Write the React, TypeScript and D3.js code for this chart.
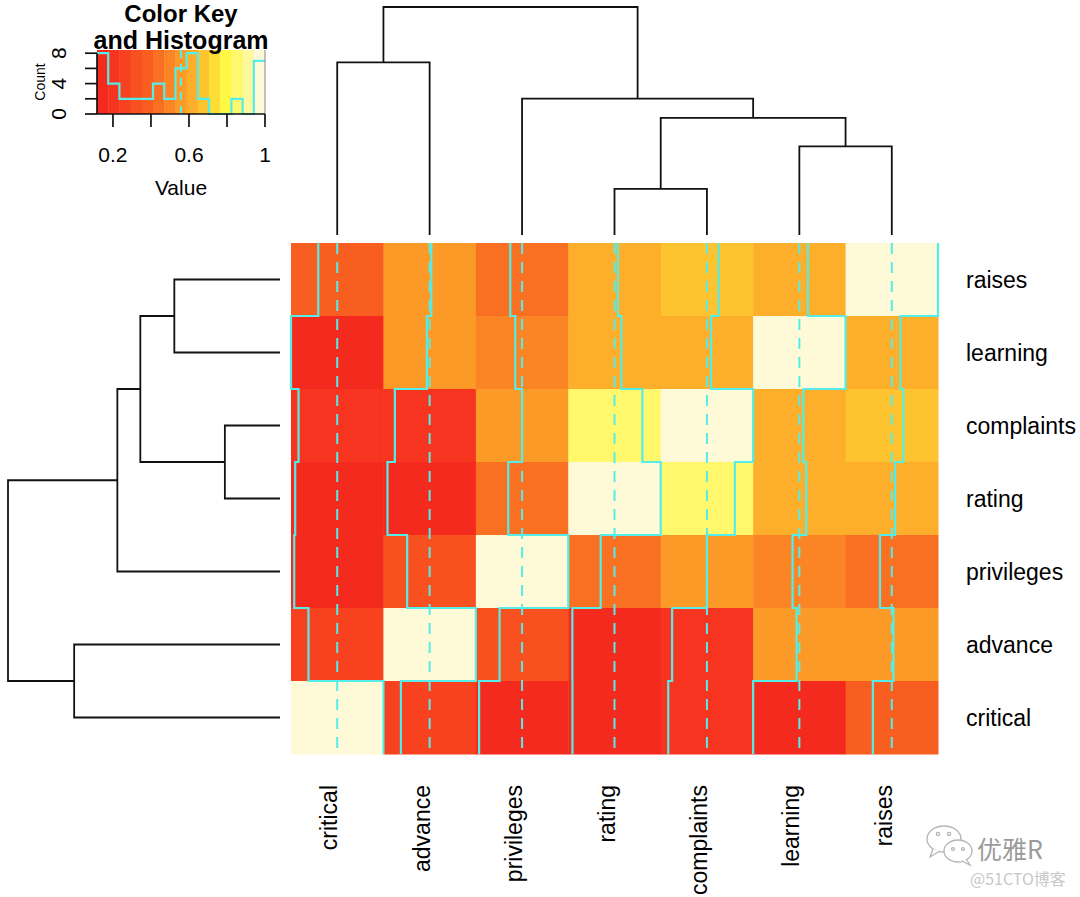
import * as d3 from 'd3';

// correlation matrix of the attitude data (rows/cols in VARS order)
const VARS = ['rating', 'complaints', 'privileges', 'learning', 'raises', 'critical', 'advance'];
const CORR = [
  [1.0, 0.825, 0.426, 0.624, 0.59, 0.156, 0.155],
  [0.825, 1.0, 0.558, 0.597, 0.669, 0.188, 0.225],
  [0.426, 0.558, 1.0, 0.493, 0.445, 0.147, 0.343],
  [0.624, 0.597, 0.493, 1.0, 0.64, 0.116, 0.532],
  [0.59, 0.669, 0.445, 0.64, 1.0, 0.377, 0.574],
  [0.156, 0.188, 0.147, 0.116, 0.377, 1.0, 0.283],
  [0.155, 0.225, 0.343, 0.532, 0.574, 0.283, 1.0],
];

const ROW_ORDER = ['raises', 'learning', 'complaints', 'rating', 'privileges', 'advance', 'critical']; // top -> bottom
const COL_ORDER = ['critical', 'advance', 'privileges', 'rating', 'complaints', 'learning', 'raises']; // left -> right

// hclust-style merges: a string is a leaf, a number refers to an earlier merge
const MERGES: [string | number, string | number][] = [
  ['rating', 'complaints'],
  ['learning', 'raises'],
  [0, 1],
  ['privileges', 2],
  ['critical', 'advance'],
  [4, 3],
];
const MERGE_HEIGHTS = [0.3, 0.575, 0.76, 0.885, 1.12, 1.48];

// heat.colors(15) as they show in the picture
const HEAT_COLORS = [
  '#f52a1f', '#f6341f', '#f7411f', '#f8501f', '#f95e21', '#fa7022', '#fb8424', '#fc9a27',
  '#fdae2a', '#fec42f', '#ffdd36', '#fff844', '#fff86d', '#fff99e', '#fefad8',
];

const KEY_X_TICKS = [0.2, 0.4, 0.6, 0.8, 1];
const KEY_X_LABELS = ['0.2', '', '0.6', '', '1'];
const KEY_Y_TICKS = [0, 2, 4, 6, 8];
const KEY_Y_LABELS = ['0', '', '4', '', '8'];

const W = 1080;
const H = 897;
const FONT = '"Liberation Sans", Arial, Helvetica, sans-serif';
const TRACE = '#55ede9';
const HM = { x0: 291, x1: 938, y0: 243, y1: 754 };
const KEY = { x0: 97, x1: 265, y0: 50, y1: 114 };

const value = (r: string, c: string) => CORR[VARS.indexOf(r)][VARS.indexOf(c)];

export default function App() {
  const all = CORR.flat();
  const vmin = d3.min(all)!;
  const vmax = d3.max(all)!;
  // 16 breaks like heatmap.2
  const breaks = d3.range(16).map(i => vmin + (i * (vmax - vmin)) / 15);
  const color = d3.scaleThreshold<number, string>().domain(breaks.slice(1, -1)).range(HEAT_COLORS);

  const x = d3.scaleBand().domain(COL_ORDER).range([HM.x0, HM.x1]);
  const y = d3.scaleBand().domain(ROW_ORDER).range([HM.y0, HM.y1]);
  const cw = x.bandwidth();
  const rh = y.bandwidth();
  const s01 = d3.scaleLinear().domain([vmin, vmax]).range([0, 1]);
  const vline = d3.median(breaks)!;

  // traces: one per column, step line through rows bottom -> top
  const bottomUp = [...ROW_ORDER].reverse();
  const stepLine = d3.line<[number, number]>().curve(d3.curveStepAfter);
  const traces = COL_ORDER.map(c => {
    const left = x(c)!;
    const xs = bottomUp.map(r => left + s01(value(r, c)) * cw);
    const pts: [number, number][] = [[xs[0], HM.y1]];
    bottomUp.forEach((r, k) => pts.push([xs[k], y(r)!]));
    return stepLine(pts)!;
  });

  // dendrogram segments
  const leafH = 0;
  const colH = d3.scaleLinear().domain([0, d3.max(MERGE_HEIGHTS)!]).range([235, 7]);
  const rowH = d3.scaleLinear().domain([0, d3.max(MERGE_HEIGHTS)!]).range([280, 8]);
  const dendro = (leafPos: (n: string) => number) => {
    const pos: number[] = [];
    const segs: { p1: number; p2: number; h: number; ha: number; hb: number }[] = [];
    MERGES.forEach(([a, b], k) => {
      const pa = typeof a === 'string' ? leafPos(a) : pos[a];
      const pb = typeof b === 'string' ? leafPos(b) : pos[b];
      const ha = typeof a === 'string' ? leafH : MERGE_HEIGHTS[a];
      const hb = typeof b === 'string' ? leafH : MERGE_HEIGHTS[b];
      pos[k] = (pa + pb) / 2;
      segs.push({ p1: pa, p2: pb, h: MERGE_HEIGHTS[k], ha, hb });
    });
    return segs;
  };
  const colSegs = dendro(n => x(n)! + cw / 2);
  const rowSegs = dendro(n => y(n)! + rh / 2);

  // color key + histogram
  const kx = d3.scaleLinear().domain([vmin, vmax]).range([KEY.x0, KEY.x1]);
  const ky = d3.scaleLinear().domain([0, 1]).range([KEY.y1, KEY.y0]);
  const counts = new Array(15).fill(0);
  all.forEach(v => {
    const i = Math.max(0, d3.bisectLeft(breaks, v) - 1);
    counts[Math.min(14, i)] += 1;
  });
  const maxC = d3.max(counts)!;
  const histPts: [number, number][] = breaks.map((b, i) => [kx(b), ky((counts[Math.min(i, 14)] / maxC) * 0.95)]);
  const histPath = stepLine(histPts)!;

  return (
    <svg width={W} height={H} style={{ position: 'absolute', left: 0, top: 0, background: '#fff' }} fontFamily={FONT}>
      {/* heatmap cells */}
      {ROW_ORDER.map(r =>
        COL_ORDER.map(c => (
          <rect key={r + c} x={x(c)} y={y(r)} width={cw + 0.5} height={rh + 0.5} fill={color(value(r, c))} />
        ))
      )}
      {/* vline (median of breaks) */}
      {COL_ORDER.map(c => (
        <line key={'v' + c} x1={x(c)! + s01(vline) * cw} x2={x(c)! + s01(vline) * cw} y1={HM.y0} y2={HM.y1}
          stroke={TRACE} strokeWidth={2} strokeDasharray="11,8" />
      ))}
      {traces.map((d, i) => (
        <path key={'t' + i} d={d} fill="none" stroke={TRACE} strokeWidth={2.2} />
      ))}

      {/* column dendrogram */}
      <g stroke="#111" strokeWidth={1.8} fill="none">
        {colSegs.map((s, i) => (
          <path key={'cd' + i}
            d={`M${s.p1},${colH(s.ha)}V${colH(s.h)}H${s.p2}V${colH(s.hb)}`} />
        ))}
      </g>
      {/* row dendrogram */}
      <g stroke="#111" strokeWidth={1.8} fill="none">
        {rowSegs.map((s, i) => (
          <path key={'rd' + i}
            d={`M${rowH(s.ha)},${s.p1}H${rowH(s.h)}V${s.p2}H${rowH(s.hb)}`} />
        ))}
      </g>

      {/* row labels */}
      {ROW_ORDER.map(r => (
        <text key={'rl' + r} x={966} y={y(r)! + rh / 2} dy="0.38em" fontSize={23} fill="#000">{r}</text>
      ))}
      {/* column labels */}
      {COL_ORDER.map(c => (
        <text key={'cl' + c} transform={`translate(${x(c)! + cw / 2},785) rotate(-90)`} textAnchor="end"
          fontSize={23} fill="#000">{c}</text>
      ))}

      {/* color key */}
      {HEAT_COLORS.map((col, i) => (
        <rect key={'k' + i} x={kx(breaks[i])} y={KEY.y0} width={kx(breaks[i + 1]) - kx(breaks[i]) + 0.4}
          height={KEY.y1 - KEY.y0} fill={col} />
      ))}
      <line x1={kx(vline)} x2={kx(vline)} y1={KEY.y0} y2={KEY.y1} stroke={TRACE} strokeWidth={2} strokeDasharray="8,6" />
      <path d={histPath} fill="none" stroke={TRACE} strokeWidth={2.2} />
      <line x1={KEY.x1} x2={KEY.x1} y1={KEY.y0} y2={KEY.y1} stroke="#888" strokeWidth={1} />
      <g stroke="#111" strokeWidth={1.7}>
        <line x1={KEY.x0} x2={KEY.x1} y1={KEY.y1} y2={KEY.y1} />
        {KEY_X_TICKS.map(t => (
          <line key={'xt' + t} x1={kx(t)} x2={kx(t)} y1={KEY.y1} y2={KEY.y1 + 13} />
        ))}
        <line x1={KEY.x0} x2={KEY.x0} y1={ky(0)} y2={ky((8 / maxC) * 0.95)} />
        {KEY_Y_TICKS.map(t => (
          <line key={'yt' + t} x1={KEY.x0 - 12} x2={KEY.x0} y1={ky((t / maxC) * 0.95)} y2={ky((t / maxC) * 0.95)} />
        ))}
      </g>
      {KEY_X_TICKS.map((t, i) => (
        <text key={'xl' + t} x={kx(t)} y={162} textAnchor="middle" fontSize={21}>{KEY_X_LABELS[i]}</text>
      ))}
      {KEY_Y_TICKS.map((t, i) => (
        <text key={'yl' + t} transform={`translate(66,${ky((t / maxC) * 0.95)}) rotate(-90)`} textAnchor="middle"
          fontSize={21}>{KEY_Y_LABELS[i]}</text>
      ))}
      <text x={(KEY.x0 + KEY.x1) / 2} y={195} textAnchor="middle" fontSize={21}>Value</text>
      <text transform={`translate(45,${(KEY.y0 + KEY.y1) / 2}) rotate(-90)`} textAnchor="middle" fontSize={14}>Count</text>
      <text x={(KEY.x0 + KEY.x1) / 2} y={22} textAnchor="middle" fontSize={24} fontWeight="bold">Color Key</text>
      <text x={(KEY.x0 + KEY.x1) / 2} y={49} textAnchor="middle" fontSize={25} fontWeight="bold">and Histogram</text>

      {/* watermark */}
      <g fill="#fff" stroke="#b5b5b5" strokeWidth={1.3}>
        <ellipse cx={944} cy={839} rx={17} ry={13} />
        <path d="M933,849 L930,857 L940,851" />
        <ellipse cx={958} cy={851} rx={14} ry={11} />
        <path d="M966,859 L970,865 L962,861" />
        <circle cx={938} cy={834} r={1.6} />
        <circle cx={949} cy={834} r={1.6} />
        <circle cx={953} cy={849} r={1.4} />
        <circle cx={963} cy={849} r={1.4} />
      </g>
      <text x={977} y={859} fontSize={25} fill="#9a9a9a" fontFamily='"Noto Sans CJK SC", sans-serif'>优雅R</text>
      <text x={970} y={885} fontSize={16} fill="#c8c8c8" fontFamily='"Noto Sans CJK SC", sans-serif'>@51CTO博客</text>
    </svg>
  );
}
